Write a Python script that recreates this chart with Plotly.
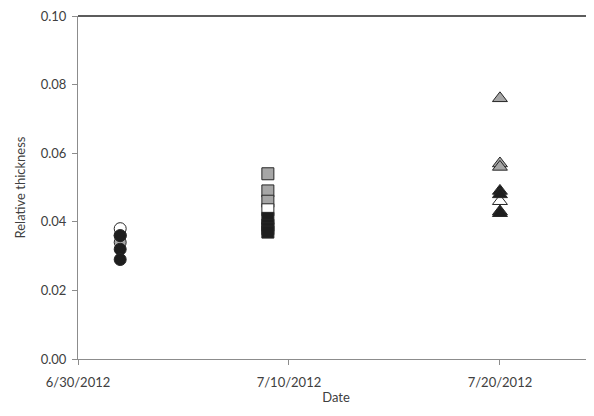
import plotly.graph_objects as go

# ---------------------------------------------------------------------------
# Data
# ---------------------------------------------------------------------------
circle_date = "2012-07-02"
circle_gray = [0.034, 0.036]
circle_white = [0.038]
circle_black = [0.036, 0.032, 0.029]

square_date = "2012-07-09"
square_gray = [0.054, 0.049, 0.046]
square_white = [0.0435]
square_black = [0.041, 0.039, 0.038, 0.037]

triangle_date = "2012-07-20"
triangle_gray = [0.076, 0.057, 0.056]
triangle_white = [0.046]
triangle_black = [0.049, 0.048, 0.043, 0.0425]

x_ticks = ["2012-06-30", "2012-07-10", "2012-07-20"]
x_ticktext = ["6/30/2012", "7/10/2012", "7/20/2012"]
y_ticks = [0.0, 0.02, 0.04, 0.06, 0.08, 0.10]

fills = {"gray": "#a6a6a6", "white": "#ffffff", "black": "#1e1e1e"}

fig = go.Figure()


def add(date, vals, fill, symbol, size):
    fig.add_trace(go.Scatter(
        x=[date] * len(vals), y=vals, mode="markers",
        marker=dict(symbol=symbol, size=size, color=fills[fill],
                    line=dict(color="#262626", width=1)),
        showlegend=False, hoverinfo="skip"))


for fill, vals in [("gray", circle_gray), ("white", circle_white), ("black", circle_black)]:
    add(circle_date, vals, fill, "circle", 12)
for fill, vals in [("gray", square_gray), ("white", square_white), ("black", square_black)]:
    add(square_date, vals, fill, "square", 12)
for fill, vals in [("gray", triangle_gray), ("white", triangle_white), ("black", triangle_black)]:
    add(triangle_date, vals, fill, "triangle-up", 13)

font = dict(family="Lato, 'Open Sans', sans-serif", size=13, color="#404040")

# the page puts the figure 8px in from the top-left corner: shrink it to fit
fig.update_layout(
    width=586, height=408,
    margin=dict(l=70, r=0, t=8, b=57),
    paper_bgcolor="white", plot_bgcolor="white",
    font=font,
    xaxis=dict(
        type="date", range=["2012-06-30", "2012-07-24 11:00"],
        tickvals=x_ticks, ticktext=x_ticktext,
        showgrid=False, zeroline=False,
        showline=True, linecolor="#8c8c8c", linewidth=1,
        ticks="outside", ticklen=5, tickcolor="#8c8c8c",
        ticklabelstandoff=6, ticklabeloverflow="allow",
        title=dict(text="Date", standoff=4, font=dict(size=13)),
        tickfont=dict(size=13),
    ),
    yaxis=dict(
        range=[0, 0.10], tickvals=y_ticks, tickformat=".2f",
        showgrid=False, zeroline=False,
        showline=True, linecolor="#8c8c8c", linewidth=1,
        ticks="outside", ticklen=5, tickcolor="#8c8c8c",
        ticklabelstandoff=3, ticklabeloverflow="allow",
        title=dict(text="Relative thickness", standoff=12, font=dict(size=13)),
        tickfont=dict(size=13),
    ),
    shapes=[dict(type="line", xref="paper", yref="paper", x0=0, x1=1, y0=1, y1=1,
                 line=dict(color="#262626", width=1.3))],
)

fig.write_html("out.html")
